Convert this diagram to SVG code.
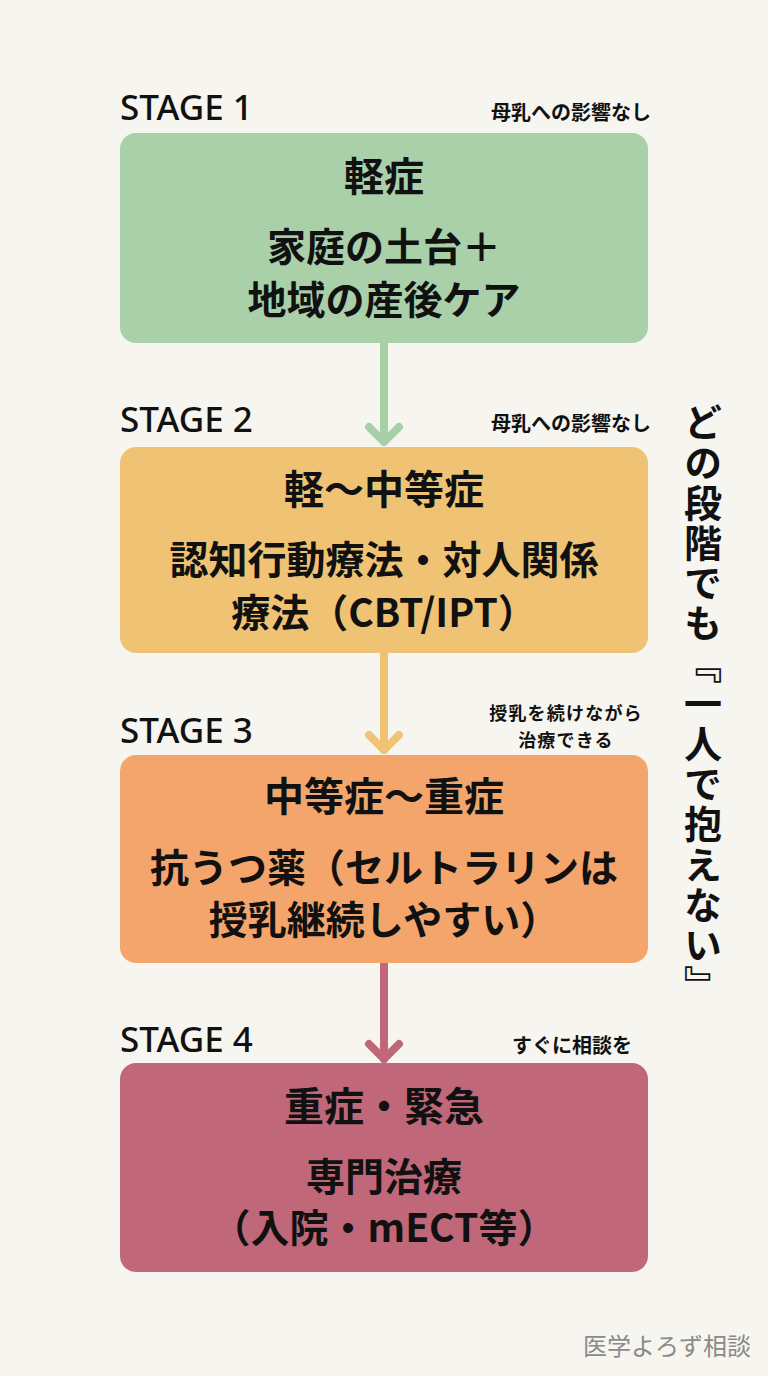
<svg xmlns="http://www.w3.org/2000/svg" width="768" height="1376" viewBox="0 0 768 1376">
<style>
.stage{font-family:"Noto Sans","Open Sans",sans-serif;font-size:35px;font-weight:500;fill:#111}
.note{font-family:"Noto Sans CJK JP",sans-serif;font-size:20px;font-weight:700;fill:#111;text-anchor:middle}
.note2{font-family:"Noto Sans CJK JP",sans-serif;font-size:18px;font-weight:700;fill:#111;text-anchor:middle;letter-spacing:1.2px}
.title{font-family:"Noto Sans CJK JP",sans-serif;font-size:40px;font-weight:700;fill:#111;text-anchor:middle}
.body{font-family:"Noto Sans CJK JP",sans-serif;font-size:39px;font-weight:700;fill:#111;text-anchor:middle}
.conn{fill:none;stroke-width:8;stroke-linecap:round;stroke-linejoin:round}
.vert{font-family:"Noto Sans CJK JP",sans-serif;font-size:38px;font-weight:700;fill:#111;writing-mode:vertical-rl;text-orientation:mixed;letter-spacing:2.2px}
.mark{font-family:"Noto Sans CJK JP",sans-serif;font-size:24px;font-weight:400;fill:#8a8a8a}
</style>
<rect width="768" height="1376" fill="#f6f5f0"/>
<g id="connectors">
<g stroke="#a6cfa6" class="conn"><line x1="384" y1="343" x2="384" y2="441"/><polyline points="369,427 384,442 399,427"/></g>
<g stroke="#f0c374" class="conn"><line x1="384" y1="653" x2="384" y2="750"/><polyline points="369,735 384,750 399,735"/></g>
<g stroke="#c0687a" class="conn"><line x1="384" y1="963" x2="384" y2="1059"/><polyline points="369,1044 384,1059 399,1044"/></g>
</g>
<g id="stage1">
<text class="stage" x="120" y="120">STAGE 1</text>
<text class="note" x="571" y="120">母乳への影響なし</text>
<rect x="120" y="133" width="528" height="210" rx="16" fill="#a9d0a9"/>
<text class="title" x="384" y="191">軽症</text>
<text class="body" x="384" y="261">家庭の土台＋</text>
<text class="body" x="384" y="314">地域の産後ケア</text>
</g>
<g id="stage2">
<text class="stage" x="120" y="432">STAGE 2</text>
<text class="note" x="571" y="431">母乳への影響なし</text>
<rect x="120" y="447" width="528" height="206" rx="16" fill="#f0c374"/>
<text class="title" x="384" y="504">軽〜中等症</text>
<text class="body" x="384" y="574">認知行動療法・対人関係</text>
<text class="body" x="384" y="627">療法（CBT/IPT）</text>
</g>
<g id="stage3">
<text class="stage" x="120" y="743">STAGE 3</text>
<text class="note2" x="566" y="720">授乳を続けながら</text>
<text class="note2" x="566" y="747">治療できる</text>
<rect x="120" y="755" width="528" height="208" rx="16" fill="#f4a56c"/>
<text class="title" x="384" y="811">中等症〜重症</text>
<text class="body" x="384" y="882">抗うつ薬（セルトラリンは</text>
<text class="body" x="384" y="934">授乳継続しやすい）</text>
</g>
<g id="stage4">
<text class="stage" x="120" y="1052">STAGE 4</text>
<text class="note" x="572" y="1053">すぐに相談を</text>
<rect x="120" y="1063" width="528" height="209" rx="16" fill="#c0687a"/>
<text class="title" x="384" y="1121">重症・緊急</text>
<text class="body" x="384" y="1191">専門治療</text>
<text class="body" x="384" y="1242">（入院・mECT等）</text>
</g>
<g id="side-note">
<text class="vert" x="703" y="403">どの段階でも『一人で抱えない』</text>
</g>
<text class="mark" x="583" y="1355">医学よろず相談</text>
</svg>
